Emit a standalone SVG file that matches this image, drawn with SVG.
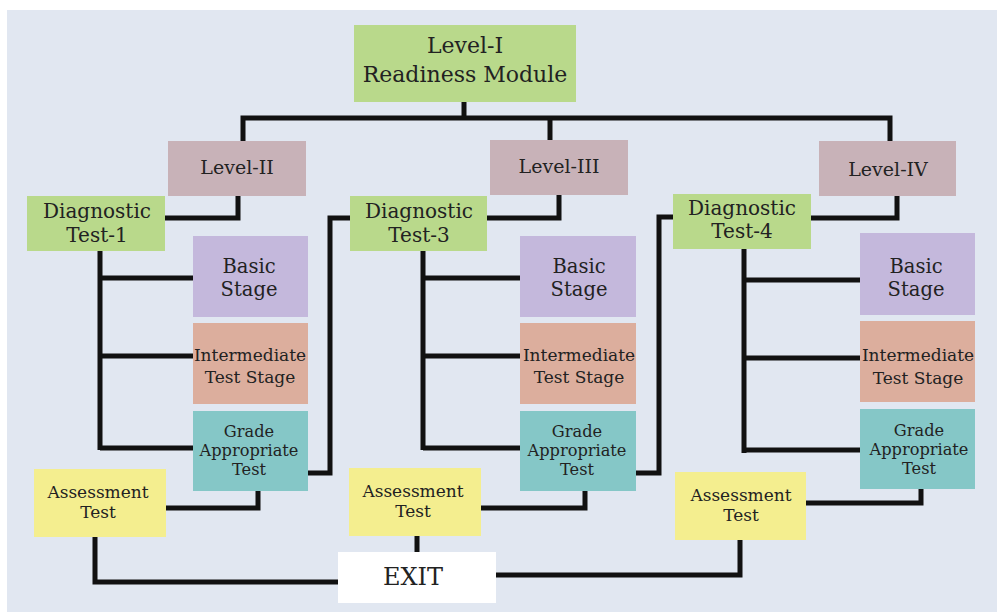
<svg xmlns="http://www.w3.org/2000/svg" width="997" height="612" viewBox="0 0 997 612">
<style>
text{font-family:"DejaVu Serif","Liberation Serif",serif;fill:#222;text-anchor:middle}
.c path{fill:none;stroke:#111;stroke-width:5;stroke-linejoin:miter}
.g{fill:#b9d98b}.p{fill:#c8b2b8}.b{fill:#c4b8dc}.i{fill:#dcae9d}.t{fill:#85c7c7}.y{fill:#f4ee8f}.w{fill:#fff}
.l{font-size:19px}.d{font-size:20px}.s{font-size:19.5px}.m{font-size:17px}.a{font-size:16.2px}.e{font-size:17px}
</style>
<rect width="997" height="612" fill="#fff"/>
<rect x="7" y="10" width="990" height="602" fill="#e1e7f1"/>
<g class="c" id="connectors">
<path d="M464,102V118"/>
<path d="M243,141V118H890V142"/>
<path d="M550,118V140"/>
<path d="M238,196V218H165"/>
<path d="M559,195V218H487"/>
<path d="M897,196V218H811"/>
<path d="M350,218H330V473H308"/>
<path d="M673,217H659V473H636"/>
<path d="M100,251V450M100,278H193M100,356H193M100,448H193"/>
<path d="M423,251V450M423,278H520M423,356H520M423,448H520"/>
<path d="M744,249V453M744,280H860M744,358H860M744,450H860"/>
<path d="M258,491V508H166"/>
<path d="M585,491V508H481"/>
<path d="M921,489V503H806"/>
<path d="M95,537V582H338"/>
<path d="M417,536V552"/>
<path d="M740,540V575H496"/>
</g>
<g id="level1"><rect class="g" x="354" y="25" width="222" height="77"/><text x="465" y="53" font-size="22">Level-I</text><text x="465" y="82" font-size="22">Readiness Module</text></g>
<g id="level2"><rect class="p" x="168" y="141" width="138" height="55"/><text class="l" x="237" y="174">Level-II</text></g>
<g id="level3"><rect class="p" x="490" y="140" width="138" height="55"/><text class="l" x="559" y="173">Level-III</text></g>
<g id="level4"><rect class="p" x="819" y="141" width="137" height="55"/><text class="l" x="888" y="176">Level-IV</text></g>
<g id="diag1"><rect class="g" x="27" y="196" width="138" height="55"/><text class="d" x="97" y="218">Diagnostic</text><text class="d" x="97" y="242">Test-1</text></g>
<g id="diag3"><rect class="g" x="350" y="196" width="137" height="55"/><text class="d" x="419" y="218">Diagnostic</text><text class="d" x="419" y="242">Test-3</text></g>
<g id="diag4"><rect class="g" x="673" y="194" width="138" height="55"/><text class="d" x="742" y="215">Diagnostic</text><text class="d" x="742" y="238">Test-4</text></g>
<g id="basic1"><rect class="b" x="193" y="236" width="115" height="81"/><text class="s" x="249" y="273">Basic</text><text class="s" x="249" y="296">Stage</text></g>
<g id="inter1"><rect class="i" x="193" y="323" width="115" height="81"/><text class="m" x="250" y="361">Intermediate</text><text class="m" x="250" y="383">Test Stage</text></g>
<g id="grade1"><rect class="t" x="193" y="411" width="115" height="80"/><text class="a" x="249" y="437">Grade</text><text class="a" x="249" y="456">Appropriate</text><text class="a" x="249" y="475">Test</text></g>
<g id="basic3"><rect class="b" x="520" y="236" width="116" height="81"/><text class="s" x="579" y="273">Basic</text><text class="s" x="579" y="296">Stage</text></g>
<g id="inter3"><rect class="i" x="520" y="323" width="116" height="81"/><text class="m" x="579" y="361">Intermediate</text><text class="m" x="579" y="383">Test Stage</text></g>
<g id="grade3"><rect class="t" x="520" y="411" width="116" height="80"/><text class="a" x="577" y="437">Grade</text><text class="a" x="577" y="456">Appropriate</text><text class="a" x="577" y="475">Test</text></g>
<g id="basic4"><rect class="b" x="860" y="233" width="115" height="82"/><text class="s" x="916" y="273">Basic</text><text class="s" x="916" y="296">Stage</text></g>
<g id="inter4"><rect class="i" x="860" y="321" width="115" height="81"/><text class="m" x="918" y="361">Intermediate</text><text class="m" x="918" y="384">Test Stage</text></g>
<g id="grade4"><rect class="t" x="860" y="409" width="115" height="80"/><text class="a" x="919" y="436">Grade</text><text class="a" x="919" y="455">Appropriate</text><text class="a" x="919" y="474">Test</text></g>
<g id="assess1"><rect class="y" x="34" y="469" width="132" height="68"/><text class="e" x="98" y="498">Assessment</text><text class="e" x="98" y="518">Test</text></g>
<g id="assess3"><rect class="y" x="349" y="468" width="132" height="68"/><text class="e" x="413" y="497">Assessment</text><text class="e" x="413" y="517">Test</text></g>
<g id="assess4"><rect class="y" x="675" y="472" width="131" height="68"/><text class="e" x="741" y="501">Assessment</text><text class="e" x="741" y="521">Test</text></g>
<g id="exit"><rect class="w" x="338" y="552" width="158" height="51"/><text x="413" y="585" font-size="24">EXIT</text></g>
</svg>
